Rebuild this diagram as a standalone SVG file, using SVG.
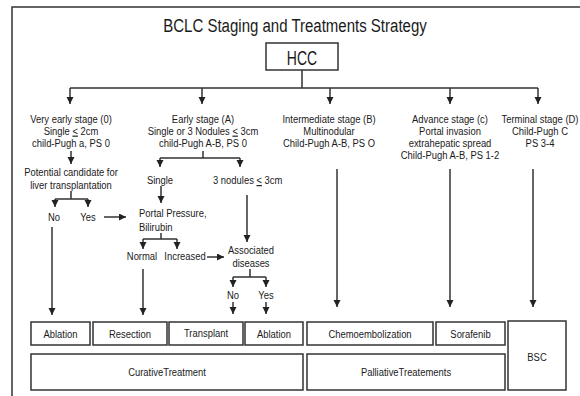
<svg xmlns="http://www.w3.org/2000/svg" width="580" height="396" viewBox="0 0 580 396">
<style>
text{font-family:"Liberation Sans",Arial,sans-serif;font-size:11.5px;fill:#1a1a1a;text-anchor:middle}
.l{text-anchor:start}
.title{font-size:19px}
.hcc{font-size:20px}
.ln{stroke:#333;stroke-width:1.5;fill:none}
.box{fill:#fff;stroke:#333;stroke-width:1.5}
.u{text-decoration:underline}
</style>
<defs>
<marker id="ah" markerUnits="userSpaceOnUse" markerWidth="8" markerHeight="8" refX="7" refY="3.5" orient="auto">
<path d="M0,0 L7,3.5 L0,7 z" fill="#222"/>
</marker>
</defs>
<rect width="580" height="396" fill="#fff"/>
<path class="ln" d="M12,396 V7 H580" stroke-width="2"/>
<text class="title" transform="translate(295 32) scale(.79 1)">BCLC Staging and Treatments Strategy</text>

<g id="hcc"><rect class="box" x="266" y="43" width="72" height="27"/><text class="hcc" transform="translate(302 65) scale(.7 1)">HCC</text></g>

<g id="stage0"><text transform="translate(71 122.5) scale(.82 1)">Very early stage (0)</text><text transform="translate(71 134.5) scale(.82 1)">Single <tspan class="u">&lt;</tspan> 2cm</text><text transform="translate(71 146.5) scale(.82 1)">child-Pugh a, PS 0</text></g>
<g id="stageA"><text transform="translate(203 122.5) scale(.82 1)">Early stage (A)</text><text transform="translate(203 134.5) scale(.82 1)">Single or 3 Nodules <tspan class="u">&lt;</tspan> 3cm</text><text transform="translate(203 146.5) scale(.82 1)">child-Pugh A-B, PS 0</text></g>
<g id="stageB"><text transform="translate(329 122.5) scale(.82 1)">Intermediate stage (B)</text><text transform="translate(329 134.5) scale(.82 1)">Multinodular</text><text transform="translate(329 146.5) scale(.82 1)">Child-Pugh A-B, PS O</text></g>
<g id="stageC"><text transform="translate(450 122.5) scale(.82 1)">Advance stage (c)</text><text transform="translate(450 134.5) scale(.82 1)">Portal invasion</text><text transform="translate(450 146.5) scale(.82 1)">extrahepatic spread</text><text transform="translate(450 158.5) scale(.82 1)">Child-Pugh A-B, PS 1-2</text></g>
<g id="stageD"><text transform="translate(540 122.5) scale(.82 1)">Terminal stage (D)</text><text transform="translate(540 134.5) scale(.82 1)">Child-Pugh C</text><text transform="translate(540 146.5) scale(.82 1)">PS 3-4</text></g>

<g id="candidate"><text transform="translate(71 176) scale(.82 1)">Potential candidate for</text><text transform="translate(71 188.5) scale(.82 1)">liver transplantation</text></g>
<g id="no0"><text transform="translate(54 221) scale(.82 1)">No</text></g>
<g id="yes0"><text transform="translate(88 221) scale(.82 1)">Yes</text></g>
<g id="single"><text transform="translate(160 184) scale(.82 1)">Single</text></g>
<g id="nodules3"><text class="l" transform="translate(213 184) scale(.82 1)">3 nodules <tspan class="u">&lt;</tspan> 3cm</text></g>
<g id="portal"><text class="l" transform="translate(139 216.5) scale(.82 1)">Portal Pressure,</text><text class="l" transform="translate(139 230.5) scale(.82 1)">Bilirubin</text></g>
<g id="normal"><text transform="translate(142 260) scale(.82 1)">Normal</text></g>
<g id="increased"><text transform="translate(185 260) scale(.82 1)">Increased</text></g>
<g id="assoc"><text transform="translate(251 253.5) scale(.82 1)">Associated</text><text transform="translate(251 266.5) scale(.82 1)">diseases</text></g>
<g id="noA"><text transform="translate(233 299) scale(.82 1)">No</text></g>
<g id="yesA"><text transform="translate(266 299) scale(.82 1)">Yes</text></g>

<g id="ablation1"><rect class="box" x="31" y="322" width="59" height="23"/><text transform="translate(60.5 338) scale(.82 1)">Ablation</text></g>
<g id="resection"><rect class="box" x="93" y="322" width="74" height="23"/><text transform="translate(130 338) scale(.82 1)">Resection</text></g>
<g id="transplant"><rect class="box" x="169" y="322" width="74" height="23"/><text transform="translate(206 336.5) scale(.82 1)">Transplant</text></g>
<g id="ablation2"><rect class="box" x="245" y="322" width="58" height="23"/><text transform="translate(274 338) scale(.82 1)">Ablation</text></g>
<g id="chemo"><rect class="box" x="307" y="322" width="126" height="23"/><text transform="translate(370 338) scale(.82 1)">Chemoembolization</text></g>
<g id="sorafenib"><rect class="box" x="436" y="322" width="69" height="23"/><text transform="translate(470.5 338) scale(.82 1)">Sorafenib</text></g>
<g id="bsc"><rect class="box" x="508" y="321" width="58" height="69"/><text transform="translate(537 360.5) scale(.82 1)">BSC</text></g>
<g id="curative"><rect class="box" x="31" y="354" width="272" height="36"/><text transform="translate(167 375.5) scale(.82 1)">CurativeTreatment</text></g>
<g id="palliative"><rect class="box" x="307" y="354" width="198" height="36"/><text transform="translate(406 375.5) scale(.82 1)">PalliativeTreatements</text></g>

<g id="connectors" class="ln">
<path d="M302,70 V88 M70,88 H538"/>
<path d="M70,88 V104" marker-end="url(#ah)"/>
<path d="M202,88 V104" marker-end="url(#ah)"/>
<path d="M330,88 V104" marker-end="url(#ah)"/>
<path d="M450,88 V104" marker-end="url(#ah)"/>
<path d="M538,88 V104" marker-end="url(#ah)"/>
<path d="M71,151 V164" marker-end="url(#ah)"/>
<path d="M71,191 V199 M55,199 H88"/>
<path d="M55,199 V207" marker-end="url(#ah)"/>
<path d="M88,199 V207" marker-end="url(#ah)"/>
<path d="M104,217 H126" marker-end="url(#ah)"/>
<path d="M203,151 V158 M160,158 H240"/>
<path d="M160,158 V167" marker-end="url(#ah)"/>
<path d="M240,158 V167" marker-end="url(#ah)"/>
<path d="M161,186 V203" marker-end="url(#ah)"/>
<path d="M247,195 V242" marker-end="url(#ah)"/>
<path d="M161,233 V239 M143,239 H177"/>
<path d="M143,239 V249" marker-end="url(#ah)"/>
<path d="M177,239 V249" marker-end="url(#ah)"/>
<path d="M207,257 H224" marker-end="url(#ah)"/>
<path d="M250,269 V277 M233,277 H266"/>
<path d="M233,277 V287" marker-end="url(#ah)"/>
<path d="M266,277 V287" marker-end="url(#ah)"/>
<path d="M233,302 V314" marker-end="url(#ah)"/>
<path d="M266,302 V314" marker-end="url(#ah)"/>
<path d="M52,227 V315" marker-end="url(#ah)"/>
<path d="M143,269 V315" marker-end="url(#ah)"/>
<path d="M337,169 V307" marker-end="url(#ah)"/>
<path d="M450,169 V307" marker-end="url(#ah)"/>
<path d="M533,169 V307" marker-end="url(#ah)"/>
</g>
</svg>
